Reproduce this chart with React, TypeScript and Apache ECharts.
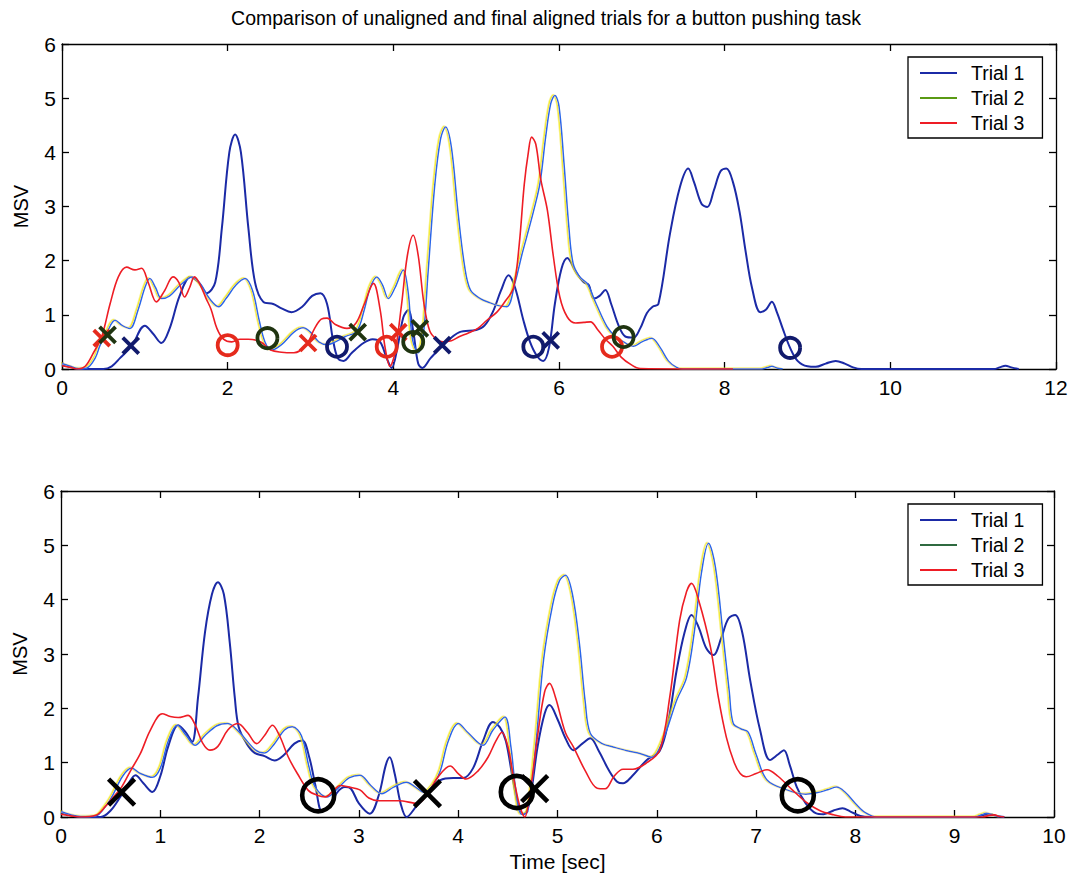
import React, { useEffect, useRef } from "react";
import * as echarts from "echarts";

type Pt = [number, number];

// ---- Unaligned trials (time in seconds, MSV) ----
const topTrial1: Pt[] = [
  [0, 0.08], [0.1, 0.04], [0.2, 0], [0.5, 0], [0.6, 0.05], [0.7, 0.2], [0.84, 0.42], [1.0, 0.8], [1.1, 0.65],
  [1.2, 0.48], [1.3, 0.75], [1.42, 1.35], [1.55, 1.7], [1.65, 1.6], [1.75, 1.4], [1.85, 1.6], [1.93, 2.6],
  [2.02, 4.0], [2.09, 4.33], [2.16, 4.0], [2.25, 2.6], [2.33, 1.6], [2.43, 1.24], [2.55, 1.2], [2.65, 1.12],
  [2.77, 1.05], [2.9, 1.15], [3.02, 1.35], [3.12, 1.4], [3.2, 1.2], [3.27, 0.55], [3.33, 0.2], [3.4, 0.15],
  [3.5, 0.3], [3.64, 0.48], [3.75, 0.55], [3.84, 0.5], [3.92, 0.2], [3.98, 0.02], [4.05, 0.4], [4.12, 0.95],
  [4.18, 1.09], [4.24, 0.7], [4.3, 0.1], [4.35, 0.02], [4.45, 0.2], [4.6, 0.44], [4.8, 0.68], [5.0, 0.72],
  [5.1, 0.8], [5.2, 1.05], [5.3, 1.45], [5.39, 1.73], [5.47, 1.5], [5.57, 0.9], [5.65, 0.5], [5.73, 0.25],
  [5.81, 0.15], [5.88, 0.4], [5.95, 1.2], [6.03, 1.85], [6.1, 2.05], [6.2, 1.8], [6.3, 1.6], [6.36, 1.55],
  [6.42, 1.3], [6.49, 1.35], [6.56, 1.46], [6.63, 1.2], [6.72, 0.8], [6.8, 0.6], [6.9, 0.58], [6.98, 0.75],
  [7.06, 1.03], [7.13, 1.15], [7.2, 1.2], [7.34, 2.5], [7.46, 3.36], [7.56, 3.7], [7.63, 3.45], [7.72, 3.05],
  [7.79, 2.99], [7.87, 3.3], [7.95, 3.65], [8.02, 3.7], [8.1, 3.45], [8.18, 2.9], [8.25, 2.2], [8.33, 1.5],
  [8.43, 1.05], [8.5, 1.1], [8.57, 1.24], [8.63, 1.05], [8.7, 0.75], [8.79, 0.39], [8.88, 0.15], [9.0, 0.05],
  [9.1, 0.04], [9.22, 0.1], [9.34, 0.15], [9.45, 0.1], [9.55, 0.03], [9.65, 0], [11.25, 0], [11.32, 0.03],
  [11.39, 0.06], [11.46, 0.03], [11.55, 0],
];

const topTrial2: Pt[] = [
  [0, 0.1], [0.1, 0.05], [0.2, 0.01], [0.3, 0.02], [0.4, 0.2], [0.46, 0.44], [0.55, 0.7], [0.64, 0.9],
  [0.73, 0.8], [0.82, 0.75], [0.92, 1.1], [1.0, 1.5], [1.06, 1.67], [1.13, 1.5], [1.2, 1.3], [1.3, 1.35],
  [1.43, 1.55], [1.57, 1.7], [1.68, 1.55], [1.78, 1.3], [1.89, 1.15], [1.98, 1.3], [2.1, 1.55], [2.21, 1.67],
  [2.3, 1.45], [2.38, 0.9], [2.45, 0.5], [2.53, 0.35], [2.65, 0.45], [2.8, 0.68], [2.91, 0.76], [3.0, 0.68],
  [3.1, 0.5], [3.2, 0.45], [3.3, 0.5], [3.42, 0.6], [3.56, 0.7], [3.65, 1.1], [3.72, 1.5], [3.8, 1.7],
  [3.87, 1.55], [3.94, 1.3], [4.02, 1.5], [4.12, 1.83], [4.18, 1.4], [4.23, 0.55], [4.3, 0.3], [4.36, 0.6],
  [4.42, 1.8], [4.5, 3.4], [4.57, 4.25], [4.63, 4.47], [4.7, 4.1], [4.78, 2.9], [4.86, 1.9], [4.93, 1.46],
  [5.05, 1.3], [5.17, 1.22], [5.27, 1.17], [5.37, 1.15], [5.47, 1.6], [5.55, 2.1], [5.61, 2.44], [5.69, 2.9],
  [5.77, 3.43], [5.84, 4.3], [5.9, 4.9], [5.95, 5.05], [6.0, 4.85], [6.06, 3.8], [6.12, 2.6], [6.17, 1.95],
  [6.25, 1.7], [6.34, 1.58], [6.45, 1.2], [6.58, 0.78], [6.68, 0.6], [6.78, 0.5], [6.9, 0.42], [7.0, 0.5],
  [7.12, 0.57], [7.22, 0.4], [7.32, 0.15], [7.42, 0.03], [7.5, 0], [8.45, 0], [8.52, 0.03], [8.57, 0.05],
  [8.63, 0.02], [8.7, 0],
];

const topTrial3: Pt[] = [
  [0, 0.06], [0.1, 0.03], [0.18, 0], [0.28, 0.05], [0.38, 0.3], [0.48, 0.6], [0.58, 1.2], [0.68, 1.7],
  [0.78, 1.88], [0.88, 1.83], [0.96, 1.86], [1.04, 1.6], [1.14, 1.24], [1.24, 1.45], [1.34, 1.7], [1.41, 1.6],
  [1.48, 1.33], [1.54, 1.5], [1.6, 1.7], [1.67, 1.55], [1.74, 1.3], [1.8, 1.1], [1.87, 0.75], [1.95, 0.55],
  [2.05, 0.5], [2.15, 0.55], [2.25, 0.55], [2.4, 0.5], [2.52, 0.35], [2.65, 0.31], [2.8, 0.3], [2.95, 0.45],
  [3.05, 0.75], [3.13, 0.92], [3.2, 0.94], [3.3, 0.82], [3.44, 0.75], [3.55, 0.85], [3.65, 1.2], [3.76, 1.58],
  [3.84, 1.1], [3.9, 0.4], [3.96, 0.05], [4.02, 0.3], [4.1, 1.2], [4.17, 2.1], [4.24, 2.47], [4.3, 2.1],
  [4.37, 1.2], [4.44, 0.7], [4.52, 0.55], [4.6, 0.5], [4.7, 0.52], [4.8, 0.6], [4.9, 0.66], [5.02, 0.75],
  [5.13, 0.9], [5.25, 1.05], [5.35, 1.25], [5.45, 1.5], [5.52, 2.3], [5.58, 3.4], [5.63, 4.0], [5.67, 4.28],
  [5.72, 4.15], [5.78, 3.5], [5.86, 2.93], [5.93, 2.1], [6.01, 1.33], [6.1, 0.96], [6.2, 0.85], [6.3, 0.86],
  [6.38, 0.87], [6.47, 0.72], [6.56, 0.55], [6.65, 0.42], [6.75, 0.22], [6.87, 0.08], [6.98, 0.01], [8.1, 0],
];

// Segment start (x) and end (o) markers per trial, unaligned
const topStart1: Pt[] = [[0.83, 0.43], [4.59, 0.44], [5.9, 0.53]];
const topStart2: Pt[] = [[0.55, 0.63], [3.57, 0.68], [4.32, 0.75]];
const topStart3: Pt[] = [[0.48, 0.57], [2.97, 0.48], [4.06, 0.68]];
const topEnd1: Pt[] = [[3.32, 0.41], [5.69, 0.41], [8.79, 0.39]];
const topEnd2: Pt[] = [[2.48, 0.57], [4.24, 0.5], [6.78, 0.59]];
const topEnd3: Pt[] = [[2.0, 0.44], [3.92, 0.41], [6.64, 0.41]];

// ---- Final aligned trials ----
const botTrial1: Pt[] = [
  [0, 0.08], [0.1, 0.03], [0.2, 0], [0.4, 0], [0.5, 0.12], [0.6, 0.38], [0.68, 0.62], [0.75, 0.77],
  [0.83, 0.62], [0.92, 0.46], [1.0, 0.75], [1.08, 1.3], [1.18, 1.69], [1.26, 1.55], [1.32, 1.38], [1.38, 2.2],
  [1.45, 3.4], [1.52, 4.1], [1.58, 4.32], [1.64, 4.1], [1.7, 3.2], [1.75, 2.2], [1.79, 1.65], [1.87, 1.35],
  [1.95, 1.18], [2.05, 1.12], [2.15, 1.04], [2.25, 1.15], [2.35, 1.35], [2.43, 1.41], [2.5, 1.1], [2.56, 0.6],
  [2.63, 0.1], [2.7, 0.2], [2.78, 0.45], [2.86, 0.55], [2.92, 0.52], [3.0, 0.25], [3.11, 0.06], [3.2, 0.4],
  [3.27, 0.95], [3.31, 1.1], [3.36, 0.8], [3.42, 0.25], [3.48, 0.0], [3.58, 0.2], [3.69, 0.42], [3.82, 0.68],
  [3.95, 0.72], [4.05, 0.72], [4.15, 0.9], [4.25, 1.4], [4.35, 1.75], [4.42, 1.65], [4.48, 1.4], [4.55, 0.7],
  [4.62, 0.1], [4.66, 0.05], [4.72, 0.3], [4.8, 1.3], [4.87, 1.9], [4.92, 2.06], [5.0, 1.8], [5.08, 1.45],
  [5.16, 1.23], [5.25, 1.35], [5.33, 1.45], [5.42, 1.2], [5.52, 0.85], [5.6, 0.65], [5.66, 0.62], [5.75, 0.75],
  [5.9, 1.05], [6.03, 1.22], [6.12, 1.8], [6.2, 2.7], [6.28, 3.4], [6.35, 3.72], [6.42, 3.5], [6.5, 3.1],
  [6.57, 2.98], [6.65, 3.3], [6.72, 3.65], [6.79, 3.72], [6.86, 3.4], [6.94, 2.52], [7.04, 1.6], [7.14, 1.05],
  [7.22, 1.15], [7.28, 1.23], [7.34, 0.95], [7.41, 0.55], [7.5, 0.25], [7.6, 0.07], [7.68, 0.05], [7.78, 0.12],
  [7.87, 0.16], [7.95, 0.1], [8.05, 0.02], [8.15, 0], [9.2, 0], [9.3, 0.04], [9.36, 0.05], [9.42, 0.02], [9.5, 0],
];

const botTrial2: Pt[] = [
  [0, 0.1], [0.1, 0.04], [0.2, 0.01], [0.35, 0.02], [0.45, 0.2], [0.52, 0.4], [0.62, 0.75], [0.71, 0.9],
  [0.8, 0.8], [0.92, 0.73], [1.0, 0.9], [1.08, 1.4], [1.17, 1.69], [1.26, 1.5], [1.35, 1.32], [1.45, 1.5],
  [1.57, 1.68], [1.68, 1.72], [1.8, 1.55], [1.96, 1.23], [2.05, 1.18], [2.15, 1.35], [2.25, 1.6], [2.33, 1.66],
  [2.42, 1.5], [2.5, 0.9], [2.56, 0.55], [2.68, 0.37], [2.8, 0.55], [2.9, 0.72], [3.01, 0.77], [3.12, 0.58],
  [3.23, 0.43], [3.35, 0.55], [3.48, 0.64], [3.57, 0.55], [3.66, 0.45], [3.75, 0.6], [3.82, 0.85], [3.9, 1.4],
  [4.0, 1.72], [4.1, 1.55], [4.25, 1.32], [4.35, 1.6], [4.47, 1.84], [4.53, 1.3], [4.58, 0.5], [4.64, 0.05],
  [4.7, 0.1], [4.78, 1.3], [4.86, 2.9], [4.95, 3.9], [5.02, 4.35], [5.08, 4.45], [5.15, 4.1], [5.22, 3.2],
  [5.28, 2.1], [5.33, 1.54], [5.45, 1.35], [5.56, 1.29], [5.7, 1.22], [5.83, 1.17], [5.95, 1.1], [6.06, 1.41],
  [6.2, 2.15], [6.3, 2.57], [6.38, 3.44], [6.45, 4.5], [6.52, 5.04], [6.59, 4.6], [6.67, 3.3], [6.73, 2.3],
  [6.77, 1.72], [6.85, 1.62], [6.92, 1.56], [7.0, 1.15], [7.11, 0.68], [7.31, 0.5], [7.5, 0.42], [7.62, 0.45],
  [7.72, 0.5], [7.81, 0.55], [7.9, 0.45], [8.0, 0.25], [8.1, 0.08], [8.22, 0], [9.2, 0], [9.27, 0.04],
  [9.32, 0.07], [9.38, 0.04], [9.45, 0],
];

const botTrial3: Pt[] = [
  [0, 0.05], [0.1, 0.02], [0.2, 0], [0.35, 0.03], [0.45, 0.2], [0.52, 0.35], [0.61, 0.55], [0.7, 0.85],
  [0.8, 1.17], [0.9, 1.6], [1.02, 1.9], [1.1, 1.85], [1.18, 1.83], [1.28, 1.87], [1.35, 1.7], [1.43, 1.35],
  [1.5, 1.23], [1.58, 1.3], [1.68, 1.6], [1.78, 1.72], [1.88, 1.55], [1.97, 1.35], [2.05, 1.5], [2.13, 1.69],
  [2.2, 1.5], [2.29, 1.1], [2.38, 0.8], [2.49, 0.49], [2.58, 0.4], [2.66, 0.37], [2.75, 0.5], [2.81, 0.58],
  [2.9, 0.55], [3.01, 0.5], [3.1, 0.35], [3.2, 0.3], [3.4, 0.3], [3.59, 0.25], [3.7, 0.45], [3.79, 0.72],
  [3.92, 0.94], [4.0, 0.8], [4.08, 0.7], [4.2, 0.85], [4.3, 1.1], [4.38, 1.4], [4.44, 1.56], [4.5, 1.3],
  [4.56, 0.7], [4.62, 0.2], [4.67, 0.0], [4.72, 0.4], [4.8, 1.5], [4.87, 2.3], [4.92, 2.46], [4.98, 2.2],
  [5.08, 1.55], [5.16, 1.29], [5.28, 0.85], [5.4, 0.53], [5.48, 0.52], [5.57, 0.75], [5.66, 0.88], [5.76, 0.88],
  [5.9, 1.0], [6.03, 1.23], [6.13, 2.2], [6.23, 3.62], [6.3, 4.15], [6.35, 4.3], [6.42, 4.0], [6.54, 3.13],
  [6.62, 2.2], [6.7, 1.47], [6.78, 1.0], [6.84, 0.8], [6.9, 0.74], [7.0, 0.8], [7.11, 0.87], [7.22, 0.75],
  [7.37, 0.49], [7.5, 0.28], [7.64, 0.12], [7.78, 0.04], [7.9, 0], [9.28, 0], [9.35, 0.03], [9.4, 0.04],
  [9.45, 0.01], [9.5, 0],
];

const botStart: Pt[] = [[0.61, 0.46], [3.69, 0.43], [4.77, 0.52]];
const botEnd: Pt[] = [[2.59, 0.4], [4.59, 0.46], [7.42, 0.4]];

const trialNames = ["Trial 1", "Trial 2", "Trial 3"];
const titleText = "Comparison of unaligned and final aligned trials for a button pushing task";
const yName = "MSV";
const xName = "Time [sec]";

const FONT = "'Liberation Sans', Arial, Helvetica, sans-serif";
const C1 = "#1b2aa6";
const C2 = "#2a66e8";
const C2_FRINGE = "#f0e400";
const C3 = "#ee1d25";
const MARK1 = "#111a6c";
const MARK2 = "#1f3410";
const MARK3 = "#e52a1c";
const CROSS = "path://M0,0L20,20M20,0L0,20";

function lineSeries(name: string, data: Pt[], color: string, width: number, xi: number, yi: number, fringe?: string) {
  return {
    type: "line",
    name,
    data,
    xAxisIndex: xi,
    yAxisIndex: yi,
    smooth: 0.35,
    symbol: "none",
    showSymbol: false,
    lineStyle: fringe
      ? { color, width, shadowColor: fringe, shadowBlur: 0, shadowOffsetX: -1.5, shadowOffsetY: -0.5 }
      : { color, width },
    itemStyle: { color },
    silent: true,
    z: 2,
  };
}

function markSeries(data: Pt[], kind: "x" | "o", color: string, size: number, bw: number, xi: number, yi: number) {
  return {
    type: "scatter",
    data,
    xAxisIndex: xi,
    yAxisIndex: yi,
    symbol: kind === "x" ? CROSS : "circle",
    symbolSize: size,
    itemStyle: { color: "rgba(0,0,0,0)", borderColor: color, borderWidth: bw, opacity: 1 },
    silent: true,
    z: 5,
  };
}

function xAxisPair(gridIndex: number, max: number, interval: number, withName: boolean) {
  const base = {
    type: "value",
    gridIndex,
    min: 0,
    max,
    interval,
    splitLine: { show: false },
    axisLine: { show: true, onZero: false, lineStyle: { color: "#000", width: 1.3 } },
    axisTick: { show: true, inside: true, length: 7, lineStyle: { color: "#000", width: 1.3 } },
  };
  return [
    {
      ...base,
      position: "bottom",
      axisLabel: { show: true, color: "#000", fontSize: 21, fontFamily: FONT, margin: 8 },
      ...(withName
        ? {
            name: xName,
            nameLocation: "middle",
            nameGap: 34,
            nameTextStyle: { color: "#000", fontSize: 21, fontFamily: FONT },
          }
        : {}),
    },
    { ...base, position: "top", axisLabel: { show: false } },
  ];
}

function yAxisPair(gridIndex: number) {
  const base = {
    type: "value",
    gridIndex,
    min: 0,
    max: 6,
    interval: 1,
    splitLine: { show: false },
    axisLine: { show: true, onZero: false, lineStyle: { color: "#000", width: 1.3 } },
    axisTick: { show: true, inside: true, length: 7, lineStyle: { color: "#000", width: 1.3 } },
  };
  return [
    {
      ...base,
      position: "left",
      axisLabel: { show: true, color: "#000", fontSize: 21, fontFamily: FONT, margin: 6 },
      name: yName,
      nameLocation: "middle",
      nameRotate: 90,
      nameGap: 31,
      nameTextStyle: { color: "#000", fontSize: 20, fontFamily: FONT },
    },
    { ...base, position: "right", axisLabel: { show: false } },
  ];
}

function legendAt(top: number, trial2Color: string) {
  const colors = [C1, trial2Color, C3];
  return {
    show: true,
    data: trialNames.map((name, i) => ({ name, itemStyle: { color: colors[i] } })),
    orient: "vertical",
    left: 908,
    top,
    icon: "rect",
    itemWidth: 37,
    itemHeight: 2,
    itemGap: 5,
    padding: [6, 18, 5, 12],
    backgroundColor: "#fff",
    borderColor: "#000",
    borderWidth: 1.3,
    borderRadius: 0,
    selectedMode: false,
    textStyle: { color: "#000", fontSize: 19.5, fontFamily: FONT, lineHeight: 20, padding: [0, 0, 0, 9] },
  };
}

export default function App() {
  const ref = useRef<HTMLDivElement>(null);

  useEffect(() => {
    if (!ref.current) return;
    const chart = echarts.init(ref.current, undefined, { renderer: "svg" });
    const option = {
      animation: false,
      backgroundColor: "#fff",
      title: {
        text: titleText,
        left: 541,
        top: 3,
        textAlign: "center",
        textStyle: { color: "#000", fontSize: 19.5, fontWeight: "normal", fontFamily: FONT },
      },
      legend: [legendAt(57, "#5a9a14"), legendAt(504, "#2f6a40")],
      grid: [
        { left: 62, top: 44, width: 994, height: 325, containLabel: false },
        { left: 61, top: 491, width: 993, height: 326, containLabel: false },
      ],
      xAxis: [...xAxisPair(0, 12, 2, false), ...xAxisPair(1, 10, 1, true)],
      yAxis: [...yAxisPair(0), ...yAxisPair(1)],
      series: [
        lineSeries(trialNames[0], topTrial1, C1, 2, 0, 0),
        lineSeries(trialNames[1], topTrial2, C2, 1.5, 0, 0, C2_FRINGE),
        lineSeries(trialNames[2], topTrial3, C3, 1.6, 0, 0),
        markSeries(topStart3, "x", MARK3, 16, 3.8, 0, 0),
        markSeries(topStart2, "x", MARK2, 16, 3.8, 0, 0),
        markSeries(topStart1, "x", MARK1, 16, 3.8, 0, 0),
        markSeries(topEnd3, "o", MARK3, 20, 3.8, 0, 0),
        markSeries(topEnd2, "o", MARK2, 20, 3.8, 0, 0),
        markSeries(topEnd1, "o", MARK1, 20, 3.8, 0, 0),
        lineSeries(trialNames[0], botTrial1, C1, 2, 2, 2),
        lineSeries(trialNames[1], botTrial2, C2, 1.5, 2, 2, C2_FRINGE),
        lineSeries(trialNames[2], botTrial3, C3, 1.6, 2, 2),
        markSeries(botStart, "x", "#000", 26, 4.6, 2, 2),
        markSeries(botEnd, "o", "#000", 32, 4.6, 2, 2),
      ],
    };
    chart.setOption(option as any);
    return () => chart.dispose();
  }, []);

  return (
    <div
      ref={ref}
      style={{ position: "absolute", left: 0, top: 0, width: 1072, height: 876, background: "#fff" }}
    />
  );
}
